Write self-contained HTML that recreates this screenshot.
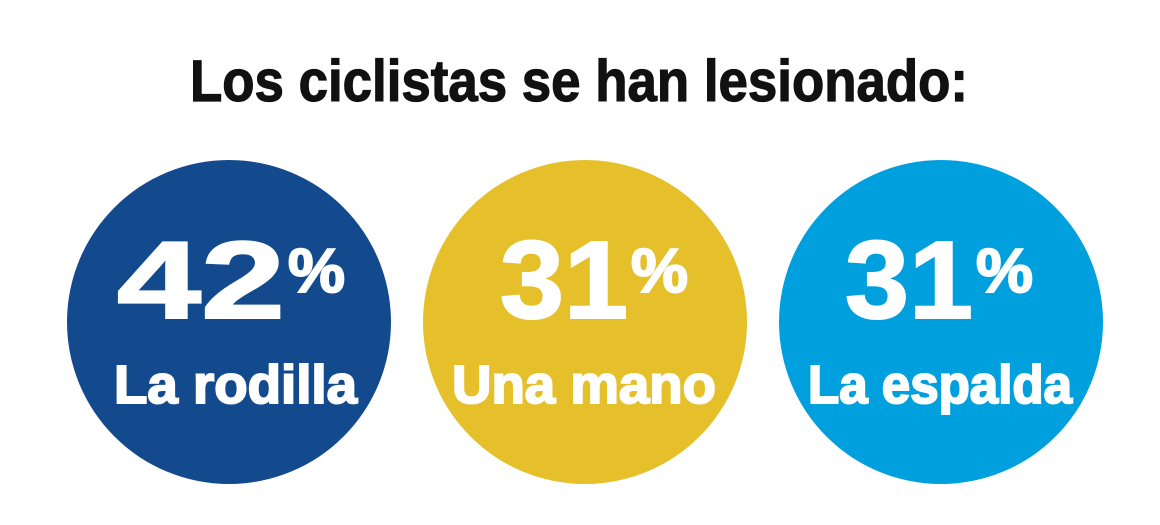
<!DOCTYPE html>
<html><head><meta charset="utf-8"><style>
html,body{margin:0;padding:0;background:#fff;}
svg{display:block;}
text{font-family:"Liberation Sans",sans-serif;font-weight:bold;}
</style></head><body>
<svg width="1160" height="525" viewBox="0 0 1160 525">
<rect width="1160" height="525" fill="#fff"/>
<text x="190" y="101" font-size="58" fill="#111" stroke="#111" stroke-width="1.2" textLength="778" lengthAdjust="spacingAndGlyphs">Los ciclistas se han lesionado:</text>
<circle cx="229" cy="322" r="162" fill="#134a8e"/>
<circle cx="585" cy="322" r="162" fill="#e5c02a"/>
<circle cx="941" cy="322" r="162" fill="#00a0df"/>
<g fill="#fff" stroke="#fff" stroke-width="2">
<text x="117" y="318" font-size="110" textLength="168" lengthAdjust="spacingAndGlyphs">42</text>
<text x="288" y="292" font-size="62" textLength="57" lengthAdjust="spacingAndGlyphs">%</text>
<text x="114" y="403" font-size="54" textLength="243" lengthAdjust="spacingAndGlyphs">La rodilla</text>
<text x="500" y="318" font-size="110" textLength="128" lengthAdjust="spacingAndGlyphs">31</text>
<text x="631" y="292" font-size="62" textLength="57" lengthAdjust="spacingAndGlyphs">%</text>
<text x="452" y="403" font-size="54" textLength="264" lengthAdjust="spacingAndGlyphs">Una mano</text>
<text x="845" y="318" font-size="110" textLength="128" lengthAdjust="spacingAndGlyphs">31</text>
<text x="976" y="292" font-size="62" textLength="57" lengthAdjust="spacingAndGlyphs">%</text>
<text x="808" y="403" font-size="54" textLength="264" lengthAdjust="spacingAndGlyphs">La espalda</text>
</g>
</svg>
</body></html>
